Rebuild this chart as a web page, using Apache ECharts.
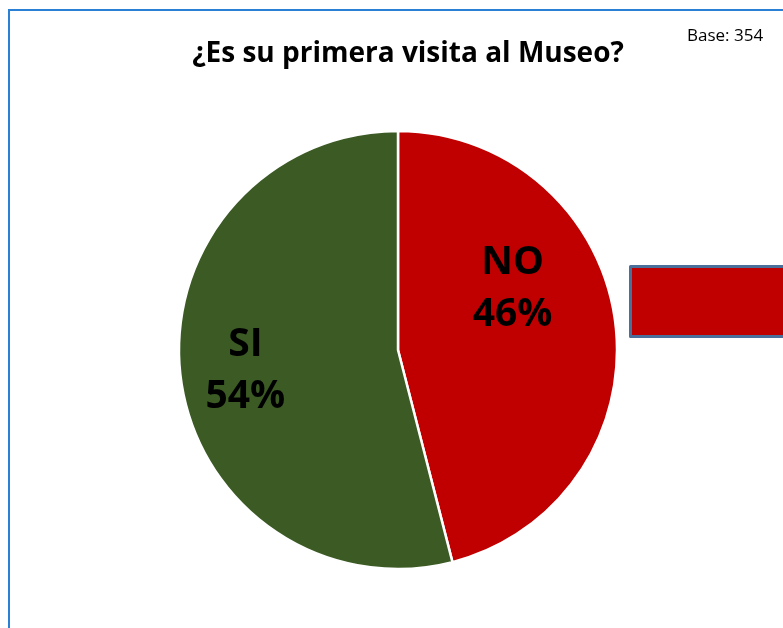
<!DOCTYPE html>
<html>
<head>
<meta charset="utf-8">
<script src="https://cdn.jsdelivr.net/npm/echarts@6/dist/echarts.min.js"></script>
<style>
html,body{margin:0;padding:0;background:#fff;}
#c{width:783px;height:628px;}
</style>
</head>
<body>
<div id="c"></div>
<script>
const categories = ['NO', 'SI'];
const values = [46, 54];
const colors = ['#c00000', '#3b5a24'];
const titleText = '¿Es su primera visita al Museo?';
const baseText = 'Base: 354';

const chart = echarts.init(document.getElementById('c'));
const labelShift = { NO: [3, -47], SI: [-41, 7] };
chart.setOption({
  animation: false,
  backgroundColor: '#fff',
  title: [{
    text: titleText,
    left: 403, top: 35, textAlign: 'center',
    textStyle: { fontFamily: 'Open Sans', fontWeight: 'bold', fontSize: 28, color: '#000' }
  }, {
    text: baseText,
    left: 682, top: 23,
    textStyle: { fontFamily: 'Open Sans', fontWeight: 'normal', fontSize: 17, color: '#000' }
  }],
  legend: {
    data: [categories[0]],
    left: 624, top: 260,
    icon: 'rect',
    itemWidth: 200, itemHeight: 70,
    selectedMode: false,
    itemStyle: { borderColor: '#4a6f9a', borderWidth: 3 },
    textStyle: { fontSize: 14, color: '#000' }
  },
  graphic: [{
    type: 'rect', silent: true, z: 100,
    shape: { x: 9, y: 10, width: 900, height: 800 },
    style: { fill: 'none', stroke: '#2a80d4', lineWidth: 2 }
  }],
  series: [{
    type: 'pie',
    center: [398, 350],
    radius: [0, 219],
    startAngle: 90,
    clockwise: true,
    data: categories.map((c, i) => ({ name: c, value: values[i], itemStyle: { color: colors[i] } })),
    itemStyle: { borderColor: '#fff', borderWidth: 2.5 },
    label: {
      show: true,
      position: 'inside',
      formatter: p => p.name + '\n' + Math.round(p.percent) + '%',
      fontFamily: 'Open Sans', fontWeight: 'bold', fontSize: 39, color: '#000',
      lineHeight: 52, align: 'center'
    },
    labelLayout: p => {
      const s = labelShift[categories[p.dataIndex]];
      return { dx: s[0], dy: s[1] };
    },
    labelLine: { show: false },
    emphasis: { disabled: true }
  }]
});
</script>
</body>
</html>
